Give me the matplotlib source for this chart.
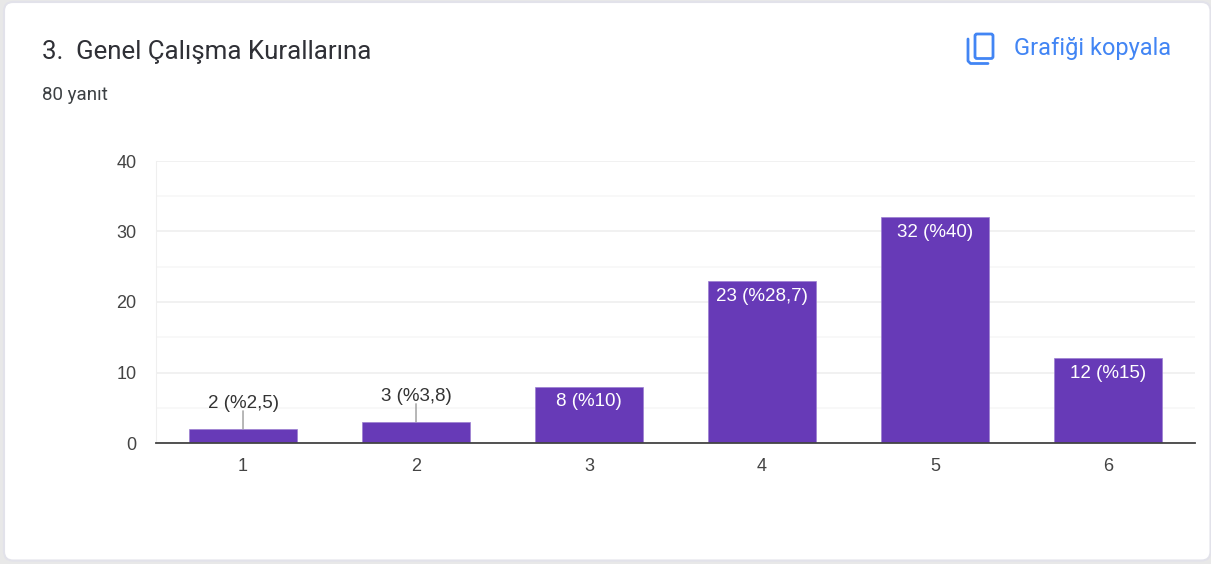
import matplotlib
matplotlib.use("Agg")
import matplotlib.pyplot as plt
from matplotlib.patches import FancyBboxPatch

categories = ["1", "2", "3", "4", "5", "6"]
counts = [2, 3, 8, 23, 32, 12]
labels = ["2 (%2,5)", "3 (%3,8)", "8 (%10)", "23 (%28,7)", "32 (%40)", "12 (%15)"]
y_ticks = [0, 10, 20, 30, 40]
y_minor = [5, 15, 25, 35]

W, H = 1211, 564
fig = plt.figure(figsize=(W / 100, H / 100), dpi=100, facecolor="#e8e8e8")

# whole picture in pixels for the card, title and icon
bg = fig.add_axes([0, 0, 1, 1])
bg.set_xlim(0, W)
bg.set_ylim(H, 0)
bg.axis("off")
bg.add_patch(FancyBboxPatch((4, 2), W - 4.5, 558.5, boxstyle="round,pad=0,rounding_size=9",
                            fc="white", ec="#e2e2ea", lw=1.5))
bg.text(42, 52, "3.  Genel Çalışma Kurallarına", family="Roboto", fontsize=18.6,
        color="#2f3036", va="center", ha="left")
bg.text(42, 95, "80 yanıt", family="Roboto", fontsize=13.5,
        color="#3c4043", va="center", ha="left")
bg.text(1014, 48.5, "Grafiği kopyala", family="Roboto", fontsize=17,
        color="#4285f4", va="center", ha="left")

# copy icon
blue = "#4285f4"
bg.add_patch(FancyBboxPatch((975, 34), 18, 24.5, boxstyle="round,pad=0,rounding_size=2",
                            fc="white", ec=blue, lw=2))
bg.plot([968, 968, 970.5, 988], [39, 61, 63.5, 63.5], color=blue, lw=2, solid_capstyle="round")

ax = fig.add_axes([156 / W, 1 - 443 / H, (1195 - 156) / W, (443 - 161) / H])
ax.patch.set_alpha(0)
x = range(len(categories))
ax.bar(x, counts, width=0.62, color="#673ab7", edgecolor="#9c7fd0", linewidth=0.5, zorder=3)
ax.set_xlim(-0.503, 5.503)
ax.set_ylim(0, 40)
ax.set_xticks(list(x), categories)
ax.set_yticks(y_ticks)
ax.set_yticks(y_minor, minor=True)
ax.grid(axis="y", which="major", color="#efefef", lw=1.2, zorder=0)
ax.grid(axis="y", which="minor", color="#f7f7f7", lw=1.2, zorder=0)
for s in ["top", "right"]:
    ax.spines[s].set_visible(False)
ax.spines["left"].set_color("#efefef")
ax.spines["bottom"].set_color("#444444")
ax.spines["bottom"].set_linewidth(1.3)
ax.spines["bottom"].set_zorder(4)
ax.tick_params(which="both", length=0)
ax.tick_params(axis="x", pad=11)
ax.tick_params(axis="y", pad=14)
for t in ax.get_xticklabels() + ax.get_yticklabels():
    t.set_family("Liberation Sans")
    t.set_fontsize(13)
    t.set_color("#444444")

for i, (c, lab) in enumerate(zip(counts, labels)):
    if c < 5:
        ax.annotate(lab, (i, c), xytext=(0, 18.5), textcoords="offset points", ha="center", va="center",
                    family="Liberation Sans", fontsize=13.5, color="#333333", zorder=5)
        ax.annotate("", (i, c), xytext=(0, 13), textcoords="offset points",
                    arrowprops=dict(arrowstyle="-", color="#999999", lw=1, shrinkA=0, shrinkB=0), zorder=5)
    else:
        ax.annotate(lab, (i, c), xytext=(0, -11), textcoords="offset points", ha="center", va="center",
                    family="Liberation Sans", fontsize=13.5, color="white", zorder=5)

fig.savefig("out.png", dpi=100, facecolor=fig.get_facecolor())
